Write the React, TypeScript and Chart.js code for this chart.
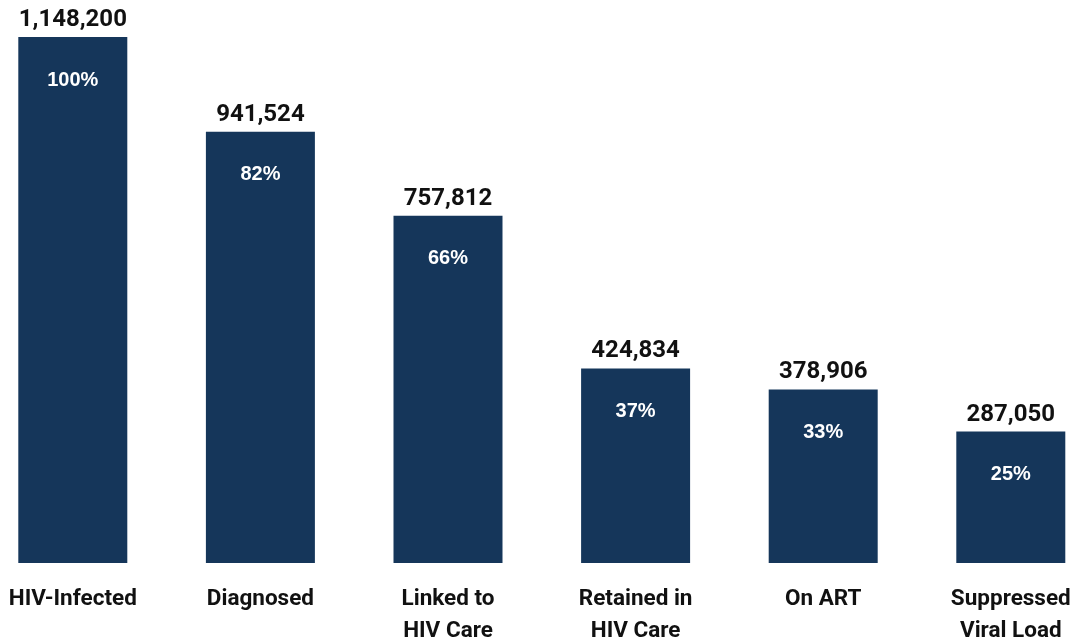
import React, { useEffect, useRef } from "react";
import { Chart, registerables } from "chart.js";

Chart.register(...registerables);

const categories: string[][] = [
  ["HIV-Infected"],
  ["Diagnosed"],
  ["Linked to", "HIV Care"],
  ["Retained in", "HIV Care"],
  ["On ART"],
  ["Suppressed", "Viral Load"],
];
const counts: number[] = [1148200, 941524, 757812, 424834, 378906, 287050];
const percentLabels: string[] = ["100%", "82%", "66%", "37%", "33%", "25%"];

const BAR_COLOR = "#15365a";

const labelPlugin = {
  id: "barLabels",
  afterDatasetsDraw(chart: any) {
    const ctx = chart.ctx;
    const meta = chart.getDatasetMeta(0);
    ctx.save();
    meta.data.forEach((bar: any, i: number) => {
      const v = counts[i];
      ctx.fillStyle = "#111111";
      ctx.font = "bold 24px Roboto";
      ctx.textAlign = "center";
      ctx.textBaseline = "alphabetic";
      ctx.fillText(v.toLocaleString("en-US"), bar.x, bar.y - 11);
      ctx.fillStyle = "#ffffff";
      ctx.font = "bold 20px 'Liberation Sans', Arial";
      ctx.textBaseline = "middle";
      ctx.fillText(percentLabels[i], bar.x, bar.y + 43);
    });
    ctx.restore();
  },
};

export default function App() {
  const canvasRef = useRef<HTMLCanvasElement | null>(null);

  useEffect(() => {
    if (!canvasRef.current) return;
    const chart = new Chart(canvasRef.current, {
      type: "bar",
      data: {
        labels: categories,
        datasets: [
          {
            data: counts,
            backgroundColor: BAR_COLOR,
            borderWidth: 0,
            categoryPercentage: 1,
            barPercentage: 0.581,
          },
        ],
      },
      options: {
        animation: false,
        responsive: true,
        maintainAspectRatio: false,
        layout: { padding: { left: 0, right: 0, top: 37, bottom: 0 } },
        plugins: {
          legend: { display: false },
          tooltip: { enabled: false },
        },
        scales: {
          x: {
            offset: true,
            grid: { display: false, drawTicks: false },
            border: { display: false },
            ticks: {
              color: "#111111",
              font: { family: "Roboto", size: 22.5, weight: "bold", lineHeight: 1.42 },
              padding: 20,
              maxRotation: 0,
              autoSkip: false,
            },
            afterFit(scale: any) {
              scale.height = 79;
            },
          },
          y: {
            display: false,
            min: 0,
            max: 1148200,
          },
        },
      },
      plugins: [labelPlugin],
    });
    return () => chart.destroy();
  }, []);

  return (
    <div
      style={{
        position: "fixed",
        left: -21.3,
        top: 0,
        width: 1125.6,
        height: 642,
        background: "#ffffff",
      }}
    >
      <canvas ref={canvasRef} />
    </div>
  );
}
